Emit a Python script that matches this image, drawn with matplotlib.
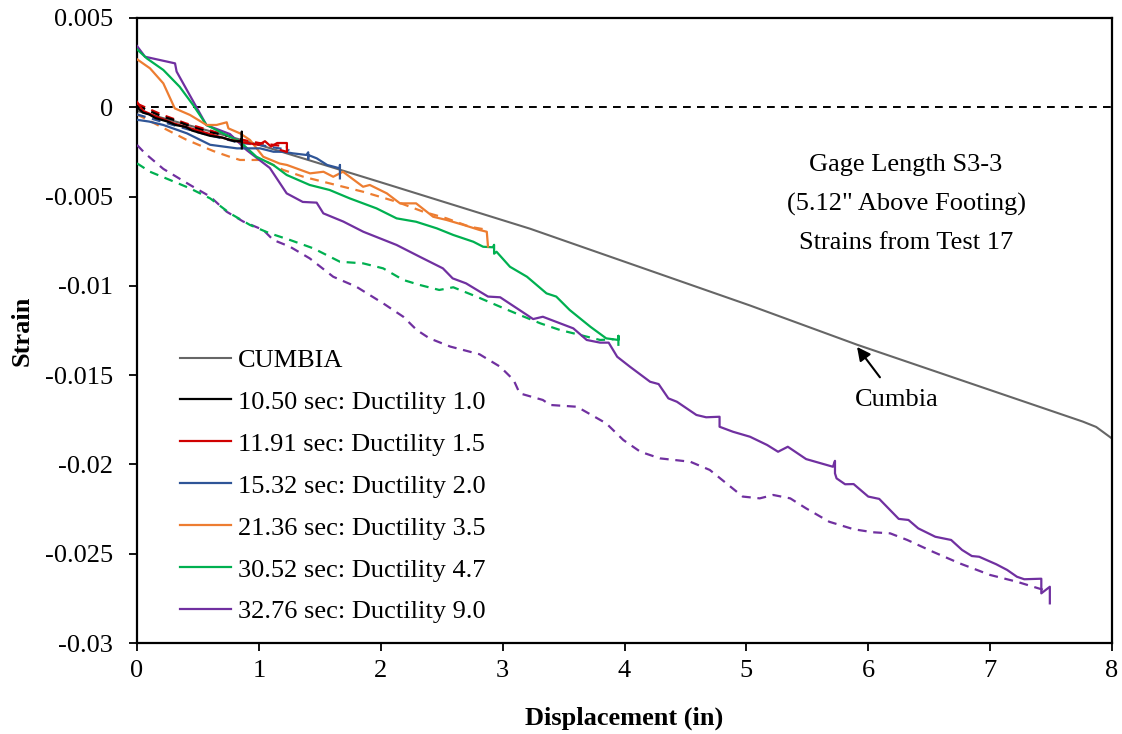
import matplotlib
matplotlib.use("Agg")
import matplotlib.pyplot as plt
import numpy as np

plt.rcParams['font.family'] = ['Liberation Serif', 'DejaVu Serif']

# ---------------- data ----------------
cumbia_x = [0, 1.0, 2.0, 3.225, 5.03, 5.91, 7.76, 7.87, 8.0]
cumbia_y = [-0.0002, -0.0021, -0.0042, -0.0068, -0.0111, -0.0133, -0.0176, -0.0179, -0.01855]

d10_x = [0, 0.05, 0.1, 0.15, 0.2, 0.25, 0.32, 0.4, 0.45, 0.5, 0.6, 0.7, 0.8, 0.86, 0.86, 0.86]
d10_y = [0.0, -0.0003, -0.0004, -0.0006, -0.0007, -0.0008, -0.0010, -0.0011, -0.0013, -0.0014, -0.0016, -0.0017, -0.0019, -0.0019, -0.00137, -0.0023]
d10d_x = [0, 0.1, 0.2, 0.3, 0.45, 0.6, 0.75, 0.86]
d10d_y = [0.0001, -0.0002, -0.0005, -0.0007, -0.0011, -0.0014, -0.0016, -0.0018]

d11_x = [0, 0.05, 0.15, 0.3, 0.45, 0.6, 0.75, 0.9, 1.0, 1.05, 1.1, 1.15, 1.23, 1.23, 1.18]
d11_y = [0.0003, -0.0002, -0.0005, -0.0009, -0.0012, -0.0015, -0.0018, -0.0020, -0.0021, -0.0019, -0.0022, -0.0020, -0.0020, -0.0025, -0.0024]
d11d_x = [0, 0.2, 0.4, 0.6, 0.85, 1.0, 1.23]
d11d_y = [0.0002, -0.0004, -0.0009, -0.0013, -0.0018, -0.0020, -0.0022]

d15_x = [0, 0.1, 0.216, 0.41, 0.6, 0.82, 1.01, 1.12, 1.2, 1.28, 1.39, 1.405, 1.405, 1.405, 1.475, 1.56, 1.665, 1.665, 1.665]
d15_y = [-0.0007, -0.0008, -0.00099, -0.00146, -0.0021, -0.0023, -0.0023, -0.00249, -0.00249, -0.00258, -0.00267, -0.00252, -0.0029, -0.00267, -0.00286, -0.00323, -0.00342, -0.00323, -0.00398]
d15d_x = [0, 0.2, 0.5, 0.85, 1.0, 1.25]
d15d_y = [-0.0004, -0.0008, -0.0014, -0.0020, -0.0021, -0.0024]

d21_x = [0, 0.107, 0.216, 0.31, 0.435, 0.57, 0.653, 0.736, 0.75, 0.845, 0.927, 1.036, 1.17, 1.23, 1.42, 1.53, 1.61, 1.69, 1.855, 1.91, 2.05, 2.158, 2.29, 2.43, 2.54, 2.68, 2.81, 2.87, 2.88]
d21_y = [0.00269, 0.00218, 0.00134, -0.00006, -0.00043, -0.00099, -0.00099, -0.00084, -0.00118, -0.00146, -0.00183, -0.00277, -0.00315, -0.00323, -0.0037, -0.00361, -0.00389, -0.00361, -0.00445, -0.00435, -0.00482, -0.00538, -0.00538, -0.00613, -0.00631, -0.00659, -0.00687, -0.00697, -0.0078]
d21d_x = [0, 0.2, 0.4, 0.626, 0.76, 0.845, 1.036, 1.2, 1.365, 1.58, 1.855, 2.13, 2.35, 2.54, 2.73, 2.88]
d21d_y = [-0.0004, -0.0011, -0.0018, -0.00245, -0.00277, -0.00295, -0.00295, -0.00351, -0.00389, -0.00426, -0.00473, -0.00529, -0.00585, -0.00622, -0.00669, -0.00687]

d30_x = [0, 0.08, 0.216, 0.35, 0.46, 0.57, 0.68, 0.845, 0.98, 1.118, 1.228, 1.417, 1.58, 1.745, 1.965, 2.13, 2.29, 2.46, 2.595, 2.76, 2.84, 2.92, 2.93, 2.93, 2.95, 3.06, 3.2, 3.36, 3.44, 3.55, 3.72, 3.85, 3.95, 3.95, 3.95]
d30_y = [0.00325, 0.00274, 0.00209, 0.00115, 0.00013, -0.00099, -0.00137, -0.00193, -0.00277, -0.00323, -0.00379, -0.00435, -0.00463, -0.0051, -0.00566, -0.00622, -0.00641, -0.00678, -0.00715, -0.00753, -0.00781, -0.00784, -0.0077, -0.0082, -0.00809, -0.00893, -0.00949, -0.01042, -0.0106, -0.01135, -0.01229, -0.01294, -0.01303, -0.0128, -0.0133]
d30d_x = [0, 0.107, 0.27, 0.435, 0.6, 0.763, 0.927, 1.09, 1.255, 1.447, 1.665, 1.855, 2.02, 2.185, 2.32, 2.48, 2.595, 2.785, 2.98, 3.14, 3.31, 3.47, 3.635, 3.8, 3.91]
d30d_y = [-0.00314, -0.00361, -0.00407, -0.00454, -0.0051, -0.00594, -0.00659, -0.00706, -0.00743, -0.0079, -0.00865, -0.00874, -0.00902, -0.00967, -0.00995, -0.01023, -0.01008, -0.0106, -0.01117, -0.01163, -0.0121, -0.01247, -0.01275, -0.01303, -0.01299]

d32_x = [0, 0.066, 0.312, 0.325, 0.57, 0.763, 0.9, 1.09, 1.228, 1.36, 1.474, 1.529, 1.693, 1.857, 2.13, 2.32, 2.51, 2.59, 2.70, 2.88, 2.98, 3.2, 3.25, 3.33, 3.58, 3.69, 3.80, 3.87, 3.94, 4.045, 4.21, 4.28, 4.36, 4.43, 4.59, 4.67, 4.78, 4.78, 4.89, 5.03, 5.17, 5.26, 5.34, 5.49, 5.71, 5.727, 5.727, 5.74, 5.81, 5.88, 6.0, 6.09, 6.25, 6.33, 6.41, 6.55, 6.68, 6.77, 6.85, 6.91, 7.05, 7.14, 7.22, 7.28, 7.42, 7.42, 7.49, 7.49]
d32_y = [0.00343, 0.00283, 0.00246, 0.0020, -0.001, -0.0015, -0.0024, -0.0034, -0.00482, -0.0053, -0.00534, -0.00594, -0.0064, -0.00697, -0.00771, -0.00837, -0.00902, -0.00958, -0.00986, -0.0106, -0.01064, -0.01163, -0.01186, -0.01173, -0.01238, -0.01303, -0.01318, -0.01318, -0.01397, -0.01453, -0.01537, -0.0155, -0.0163, -0.01649, -0.01723, -0.01736, -0.01733, -0.01789, -0.01817, -0.01845, -0.01891, -0.01929, -0.01901, -0.0197, -0.02013, -0.0198, -0.0205, -0.02078, -0.02111, -0.0211, -0.0218, -0.02193, -0.02305, -0.02311, -0.02358, -0.02405, -0.02423, -0.02479, -0.02513, -0.02517, -0.02559, -0.02591, -0.02629, -0.02643, -0.0264, -0.02722, -0.02685, -0.02778]
d32d_x = [0, 0.066, 0.216, 0.435, 0.6, 0.736, 0.872, 1.036, 1.118, 1.253, 1.417, 1.61, 1.80, 2.02, 2.185, 2.295, 2.40, 2.57, 2.81, 2.98, 3.09, 3.14, 3.33, 3.39, 3.61, 3.85, 3.99, 4.13, 4.29, 4.54, 4.70, 4.97, 5.11, 5.22, 5.36, 5.49, 5.68, 5.88, 6.04, 6.18, 6.32, 6.53, 6.75, 7.0, 7.22, 7.44, 7.48]
d32d_y = [-0.00211, -0.00258, -0.00345, -0.00435, -0.005, -0.00585, -0.0064, -0.00687, -0.00743, -0.0078, -0.00846, -0.00949, -0.01005, -0.01098, -0.01173, -0.01247, -0.01294, -0.0134, -0.01383, -0.01453, -0.01527, -0.01602, -0.01639, -0.01667, -0.01677, -0.0177, -0.01863, -0.01929, -0.01966, -0.01985, -0.02031, -0.0218, -0.0219, -0.02171, -0.0219, -0.02246, -0.02321, -0.02363, -0.0238, -0.02386, -0.02423, -0.02489, -0.02554, -0.02619, -0.02657, -0.02703, -0.02713]

labels = ["CUMBIA", "10.50 sec: Ductility 1.0", "11.91 sec: Ductility 1.5",
          "15.32 sec: Ductility 2.0", "21.36 sec: Ductility 3.5",
          "30.52 sec: Ductility 4.7", "32.76 sec: Ductility 9.0"]
x_ticks = [0, 1, 2, 3, 4, 5, 6, 7, 8]
y_ticks = [0.005, 0, -0.005, -0.01, -0.015, -0.02, -0.025, -0.03]
y_tick_labels = ["0.005", "0", "-0.005", "-0.01", "-0.015", "-0.02", "-0.025", "-0.03"]

# ---------------- figure ----------------
W, H = 1122, 734
fig = plt.figure(figsize=(W / 100, H / 100), dpi=100)
ax = fig.add_axes([137 / W, 1 - 643 / H, 975 / W, 625 / H])

c_gray = '#666666'
c_black = '#000000'
c_red = '#D00000'
c_blue = '#2F5597'
c_orange = '#ED7D31'
c_green = '#00B050'
c_purple = '#7030A0'
lw = 1.6
dash = (0, (4, 3))

ax.axhline(0, color='black', lw=1.4, ls=(0, (4, 3.2)), zorder=1)

ax.plot(cumbia_x, cumbia_y, color=c_gray, lw=1.5, label=labels[0], zorder=2)

series = [
    (d10_x, d10_y, d10d_x, d10d_y, c_black, labels[1]),
    (d11_x, d11_y, d11d_x, d11d_y, c_red, labels[2]),
    (d15_x, d15_y, d15d_x, d15d_y, c_blue, labels[3]),
    (d21_x, d21_y, d21d_x, d21d_y, c_orange, labels[4]),
    (d30_x, d30_y, d30d_x, d30d_y, c_green, labels[5]),
    (d32_x, d32_y, d32d_x, d32d_y, c_purple, labels[6]),
]
for sx, sy, dx, dy, col, lab in reversed(series):
    ax.plot(dx, dy, color=col, lw=lw, ls=dash, zorder=3)
    ax.plot(sx, sy, color=col, lw=lw, label=lab, zorder=4)

ax.set_xlim(0, 8)
ax.set_ylim(-0.03, 0.005)
ax.set_xticks(x_ticks)
ax.set_xticklabels([str(t) for t in x_ticks])
ax.set_yticks(y_ticks)
ax.set_yticklabels(y_tick_labels)
ax.tick_params(axis='both', direction='out', length=6, width=1.3, labelsize=19)
ax.tick_params(axis='y', pad=11.5)
ax.tick_params(axis='x', pad=6)
for sp in ax.spines.values():
    sp.set_linewidth(1.6)

ax.set_xlabel("Displacement (in)", fontsize=19, fontweight='bold', labelpad=18)
ax.set_ylabel("Strain", fontsize=19, fontweight='bold', labelpad=8)

handles, labs = ax.get_legend_handles_labels()
order = [labs.index(l) for l in labels]
leg = ax.legend([handles[i] for i in order], [labs[i] for i in order],
                loc='upper left', bbox_to_anchor=(0.044, 0.4715), frameon=False,
                fontsize=19, handlelength=1.95, handletextpad=0.25,
                labelspacing=0.7, borderpad=0, borderaxespad=0)

ax.text(6.31, -0.00541, "Gage Length S3-3\n(5.12\" Above Footing)\nStrains from Test 17",
        ha='center', va='center', fontsize=19, linespacing=1.95)

ax.annotate("Cumbia", xy=(5.908, -0.01342), xytext=(6.236, -0.01639),
            ha='center', va='center', fontsize=19,
            arrowprops=dict(arrowstyle='-|>', color='black', lw=1.5,
                            mutation_scale=20, shrinkA=8, shrinkB=0))

fig.savefig("out.png", dpi=100)
